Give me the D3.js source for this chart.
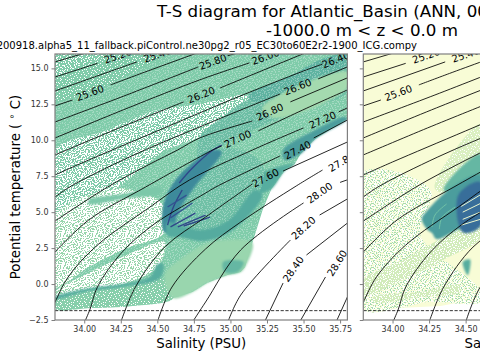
<!DOCTYPE html>
<html><head><meta charset="utf-8">
<script src="https://cdnjs.cloudflare.com/ajax/libs/d3/7.8.5/d3.min.js"></script>
<style>html,body{margin:0;padding:0;background:#fff;overflow:hidden}svg{display:block}text{font-family:"DejaVu Sans",sans-serif}</style>
</head><body><svg id="c" width="480" height="360"></svg>
<script>
// ---------- data (salinity PSU, potential temperature C) ----------
const salinityTicks=[34,34.25,34.5,34.75,35,35.25,35.5,35.75];
const temperatureTicks=[-2.5,0,2.5,5,7.5,10,12.5,15];
const freezingLine=[[33.8,-1.85],[35.8,-1.85]];
const titleLines=["T-S diagram for Atlantic_Basin (ANN, 0001-0010)","-1000.0 m < z < 0.0 m"];
const runName="20200918.alpha5_11_fallback.piControl.ne30pg2_r05_EC30to60E2r2-1900_ICG.compy";

const contourLevels=[25.0,25.2,25.4,25.6,25.8,26.0,26.2,26.4,26.6,26.8,27.0,27.2,27.4,27.6,27.8,28.0,28.2,28.4,28.6,28.8];
const contourLines=[
[[33.8,15.45],[34.05,16.2]],
[[33.8,14.4],[34.09,15.35]],
[[33.8,13.43],[34.36,15.45]],
[[33.8,12.39],[33.92,12.8],null,[34.18,13.85],[34.39,14.65],[34.78,16.1]],
[[33.8,11.27],[34.29,13.15],[34.78,15.1],null,[34.98,15.87],[35.07,16.15]],
[[33.8,10.16],[34.3,12.25],[34.79,14.2],[35.13,15.38],null,[35.37,16.15]],
[[33.8,8.98],[34.24,10.86],[34.68,12.67],null,[34.93,13.64],[35.48,15.94],[35.52,16.1]],
[[33.8,7.59],[34,8.49],[34.5,10.65],[35,12.8],[35.5,14.82],[35.63,15.3]],
[[33.8,6.05],[33.9,6.75],[34.31,8.84],[34.79,10.93],[35.34,13.22],null,[35.6,14.27],[35.8,15.1]],
[[33.8,4.38],[34.16,6.75],[34.45,8.35],[34.64,9.33],[34.79,10.16],[35.15,11.34],null,[35.41,12.67],[35.8,14.34]],
[[33.8,2.23],[34.03,4.45],[34.42,6.75],[34.88,9.33],[34.94,9.6],null,[35.19,10.65],[35.54,12.32],[35.8,13.5]],
[[33.78,-1.6],[33.8,-1.25],[33.89,0.49],[34.09,2.71],[34.45,5.36],[34.72,7.24],[35.15,9.32],[35.5,10.86],null,[35.74,11.97],[35.8,12.25]],
[[34.0,-2.7],[34.04,-1.74],[34.09,-0.21],[34.26,2.23],[34.48,4.18],[34.83,6.33],[34.9,6.75],[35.34,8.91],null,[35.57,10.16],[35.8,11.41]],
[[34.25,-2.65],[34.35,-0.21],[34.55,2.57],[34.83,4.66],[35.15,6.96],null,[35.36,7.86],[35.8,9.88]],
[[34.5,-2.65],[34.6,-0.21],[34.83,2.44],[35.07,4.31],[35.45,6.82],[35.63,7.93]],
[[34.74,-2.65],[34.83,-1.25],[35.07,2.37],[35.5,5.64],null,[35.75,7.07],[35.8,7.25]],
[[34.98,-2.7],[35.07,-0.77],[35.41,3.06],null,[35.61,4.8],[35.8,5.92]],
[[35.23,-2.7],[35.36,0.07],null,[35.52,2.02],[35.8,4.24]],
[[35.47,-2.7],[35.65,0.49]],
[[35.72,-2.7],[35.8,-0.9]]
];
const labelLevels=[25.2,25.4,25.6,25.8,26.0,26.2,26.4,26.6,26.8,27.0,27.2,27.4,27.6,27.8,28.0,28.2,28.4,28.6];
const labelSalinity=[34.23,34.5,34.04,34.88,35.24,34.8,35.72,35.46,35.27,35.05,35.63,35.46,35.24,35.76,35.61,35.5,35.43,35.73];
const labelTemperature=[15.87,15.94,13.29,15.45,15.8,13.15,15.59,13.71,11.97,10.09,11.41,9.32,7.38,8.49,6.33,3.9,1.04,1.46];
const labelAngle=[-19,-19,-20,-20,-20,-22,-22,-22,-24,-25,-24,-27,-28,-30,-35,-42,-55,-58];

const cloudEnvelope=[[33.8,16],[35.8,16],[35.8,11.48],[35.58,10.09],[35.48,9.05],[35.44,8.35],[35.37,7.86],[35.28,6.61],[35.22,5.15],[35.15,2.85],[35.1,1.18],[35.07,0.84],[34.98,0.63],[34.84,0.07],[34.74,-0.56],[34.61,-0.97],[34.33,-1.53],[34.04,-1.67],[33.8,-1.74]];

const leftRegions=[
cloudEnvelope,
[[33.8,16],[34.23,16],[34.07,15.3],[33.8,14.05]],
[[33.8,14.05],[34.23,16],[34.55,16],[33.8,12.8]],
[[33.8,9.32],[34.14,10.65],[34.48,12.05],[34.79,12.53],[35.12,13.09],[35.09,12.11],[34.79,10.23],[34.55,9.25],[34.21,6.61],[33.8,4.8]],
[[33.8,4.8],[34.21,6.61],[34.33,6.54],[34.53,5.6],[34.55,3.62],[34.26,2.37],[34.03,1.18],[33.8,-0.21]],
[[34.03,5.85],[34.26,6.26],[34.53,6.75],[34.53,6.33],[34.26,5.92],[34.03,5.57]],
[[33.8,-0.56],[34.03,0.77],[34.26,1.88],[34.55,2.92],[34.5,1.18],[34.27,0],[34.03,-0.35],[33.8,-0.9]],
[[33.8,-1.11],[34.03,-0.49],[34.26,-0.28],[34.52,0.42],[34.61,-0.97],[34.33,-1.53],[34.04,-1.67],[33.8,-1.74]],
[[33.8,-0.9],[34.03,-0.3],[34.26,0],[34.45,0.5],[34.5,1.4],[34.54,1.4],[34.52,0.42],[34.26,-0.2],[34.03,-0.49],[33.8,-1.05]],
[[34.61,-0.97],[34.55,0.63],[34.67,1.81],[34.83,2.78],[34.96,3.06],[35.15,2.85],[35.1,1.18],[35.07,0.84],[34.98,0.63],[34.84,0.07],[34.74,-0.56]],
[[34.95,1.53],[35.09,1.53],[35.05,0.84],[34.96,0.84]],
[[34.79,10.23],[34.93,11.48],[35.13,12.88],[35.34,13.36],[35.6,14.62],[35.8,15.52],[35.8,13.36],[35.48,12.11],[35.2,10.93],[34.93,9.53],[34.79,8.35]],
[[35.12,13.09],[35.41,14.48],[35.61,15.59],[35.8,16],[35.8,15.17],[35.48,13.92],[35.17,12.67]],
[[35.22,12.25],[35.8,14.75],[35.8,13.64],[35.29,11.55]],
[[35.36,9.32],[35.58,10.72],[35.78,11.62],[35.8,11.48],[35.58,10.09],[35.48,9.05],[35.37,8.63]],
[[35.13,7.24],[35.37,8.28],[35.44,8.35],[35.37,7.86],[35.28,6.61],[35.17,6.19],[35.07,5.85]],
[[34.55,3.62],[34.54,5.36],[34.61,7.03],[34.74,8.42],[34.88,9.32],[35.07,9.32],[35.22,8.28],[35.19,6.19],[35,3.97],[34.81,3.27],[34.65,3.55]],
[[34.55,3.62],[34.54,5.36],[34.61,7.03],[34.74,8.42],[34.88,9.32],[34.94,9.19],[34.76,6.82],[34.65,5.15],[34.6,3.76]],
[[34.57,3.34],[34.65,3.27],[34.81,2.99],[35.01,3.69],[35.22,6.19],[35.17,6.54],[34.99,4.45],[34.81,3.76],[34.67,4.04],[34.57,4.31]]
];
const leftLevels=[0.4,0.4,0.4,0.4,0.33,0.42,0.33,0.38,0.55,0.33,0.5,0.47,0.52,0.3,0.62,0.55,0.46,0.7,0.56];
const leftHoles=[5,2,1,3,6,0,6,1,0,0,0,5,5,0,0,0,5,0,0];
const leftStreaks=[
[[34.57,4.1],[34.61,5.36],[34.67,6.54]],
[[34.59,3.97],[34.76,4.94]],
[[34.64,3.97],[34.83,4.8]],
[[34.68,4.04],[34.86,4.66]],
[[34.59,4.6],[34.74,5.64]],
[[34.57,5.36],[34.7,6.19]],
[[34.65,7.03],[34.74,8.07],[34.88,9.32],[34.94,9.67]]
];
const leftStreakLevels=[0.95,0.95,0.95,0.95,0.9,0.9,0.95];

const rightRegions=[
cloudEnvelope,
[[33.8,7.79],[34.26,6.54],[34.19,3.41],[34.6,-0.42],[34.6,-1.25],[34.24,-1.25],[34.04,-1.67],[33.8,-1.74]],
[[33.8,7.79],[34.26,6.54],[34.19,3.41],[34.6,-0.42],[34.6,-1.25],[34.24,-1.25],[34.04,-1.67],[33.8,-1.74]],
[[33.8,0.28],[34.07,1.67],[34.37,3.41],[34.6,4.8],[34.6,3.2],[34.37,1.81],[34.07,0.28],[33.8,-0.77]],
[[33.87,-0.9],[34.19,-0.56],[34.46,-0.07],[34.46,-0.56],[34.19,-0.9],[33.87,-1.25]],
[[34.29,6.61],[34.6,11.13],[34.6,6.61]],
[[34.35,6.54],[34.6,9.05],[34.6,6.54]],
[[34.2,4.52],[34.24,5.15],[34.41,6.75],[34.6,7.58],[34.6,4.52],[34.44,3.76],[34.3,3.13],[34.27,3.55],[34.24,3.76]],
[[34.45,6.2],[34.6,7.1],[34.6,4],[34.48,3.6]],
[[34.48,1.53],[34.53,1.7],[34.515,0.6]]
];
const rightLevels=[0.0,0.01,null,0.16,0.16,0.12,0.5,0.62,0.8,0.55];
const rightHoles=[0,6,4,2,2,1,0,0,0,0];
const rightStreaks=[
[[34.27,3.97],[34.29,4.8],[34.37,5.57]],
[[34.32,3.83],[34.34,4.66],[34.43,5.36]],
[[34.47,5.4],[34.6,6.2]],
[[34.48,5],[34.6,5.6]],
[[34.48,4.5],[34.6,5.0]],
[[34.47,4.1],[34.6,4.5]]
];
const rightStreakLevels=[0.45,0.45,0.05,0.05,0.05,0.05];

// ---------- styling and scales ----------
const svg=d3.select("#c");
const color=d3.scaleLinear().domain([0,0.2,0.4,0.55,0.7,0.85,1])
  .range(["#f8fcd6","#c8e8b4","#80ccaa","#57ad9f","#3d8a9b","#35609a","#2d3a80"]);
const yScale=d3.scaleLinear().domain([-2.5,16]).range([320,54]);
const gray="#7f7f7f";

// dither tiles for thinly populated parts of the cloud (texture only)
const tileA=["..#.......#.....","......#.......#.","#..........#....","....#..#........",".........#....#.",".#...........#..","...#...#........","........#...#..#","#....#..........","...........#..#.","..#.....#.......","......#.....#...","#.........#.....","...#.........#..",".......#.#......",".#...#.........#"];
const tileB=[".....#......#...","#.........#....#","...#..#.........",".#.........#..#.","......#.#.......","...#.........#..","#........#.....#",".....#.......#..","..#.......#.....","......#.#.......",".#............#.","....#......#....","..........#....#",".#...#..#.......","............#...","...#..#....#...."];
const shift=(t,dx,dy)=>d3.range(16).map(r=>d3.range(16).map(c=>t[(r+dy)%16][(c+dx)%16]).join(""));
// a 32px tile made of four differently shifted quadrants, so that repetition is less visible
const big=t=>{const a=t,b=shift(t,3,9),c=shift(t,10,5),d=shift(t,7,13);
  return a.map((r,i)=>r+b[i]).concat(c.map((r,i)=>r+d[i]));};
const A=big(tileA),B=big(tileB);
const sh32=(t,dx,dy)=>d3.range(32).map(r=>d3.range(32).map(c=>t[(r+dy)%32][(c+dx)%32]).join(""));
const C=sh32(A,5,7),D=sh32(B,11,3),E=sh32(A,13,18),F=sh32(B,22,11);
const holeSets={1:[[A],"#fff",1],2:[[A,B],"#fff",1],3:[[A,B,C,D],"#fff",1],4:[[C,E],"#a6dbb0",1],5:[[A,D],"#fff",0.28],6:[[A,B,C,D,E,F],"#fff",1]};
const defs=svg.append("defs");
Object.entries(holeSets).forEach(([k,[tiles,fill,op]])=>{
  const p=defs.append("pattern").attr("id","holes"+k).attr("patternUnits","userSpaceOnUse").attr("width",32).attr("height",32);
  const on=new Set();
  tiles.forEach(t=>t.forEach((row,r)=>[...row].forEach((ch,c)=>{if(ch==="#")on.add(r*32+c);})));
  on.forEach(v=>p.append("rect").attr("x",v%32).attr("y",Math.floor(v/32)).attr("width",1).attr("height",1).attr("fill",fill).attr("fill-opacity",op).attr("shape-rendering","crispEdges"));
});
defs.append("filter").attr("id","soft").attr("x","-20%").attr("y","-20%").attr("width","140%").attr("height","140%")
  .append("feGaussianBlur").attr("stdDeviation",0.8);
defs.append("filter").attr("id","thin").attr("x","-20%").attr("y","-20%").attr("width","140%").attr("height","140%")
  .append("feGaussianBlur").attr("stdDeviation",0.35);

function panel(id,x0,regions,levels,holes,streaks,streakLevels,streakWidth){
  const x=d3.scaleLinear().domain([33.8,35.8]).range([x0,x0+292.4]);
  defs.append("clipPath").attr("id",id).append("rect").attr("x",x0).attr("y",54).attr("width",292.4).attr("height",266);
  const g=svg.append("g");
  const plot=g.append("g").attr("clip-path",`url(#${id})`);
  const area=d3.line().x(d=>x(d[0])).y(d=>yScale(d[1]));
  const blob=d3.line().x(d=>x(d[0])).y(d=>yScale(d[1])).curve(d3.curveCatmullRomClosed.alpha(0.5));
  const regs=plot.append("g");
  regions.forEach((r,i)=>{
    const d=i===0?area(r)+"Z":blob(r);
    if(levels[i]!==null){const f=regs.append("path").attr("d",d).attr("fill",color(levels[i]));
      if(i>0&&!holes[i])f.attr("filter","url(#soft)");}
    if(holes[i])regs.append("path").attr("d",d).attr("fill",`url(#holes${holes[i]})`).attr("filter","url(#thin)");
  });
  streaks.forEach((s,i)=>plot.append("path").attr("d",area.curve(d3.curveCatmullRom)(s)).attr("fill","none")
    .attr("stroke",color(streakLevels[i])).attr("stroke-width",streakWidth).attr("filter","url(#thin)"));
  area.curve(d3.curveLinear);
  const contour=d3.line().defined(d=>d!==null).x(d=>x(d[0])).y(d=>yScale(d[1])).curve(d3.curveCatmullRom);
  contourLines.forEach(l=>plot.append("path").attr("d",contour(l)).attr("fill","none").attr("stroke","#000").attr("stroke-opacity",0.85).attr("stroke-width",1));
  plot.append("path").attr("d",area(freezingLine)).attr("fill","none").attr("stroke","#000").attr("stroke-width",0.8).attr("stroke-dasharray","3.2 1.6");
  labelLevels.forEach((lv,i)=>plot.append("text").attr("transform",`translate(${x(labelSalinity[i])},${yScale(labelTemperature[i])}) rotate(${labelAngle[i]})`)
    .attr("text-anchor","middle").attr("dy","0.35em").attr("font-size",10).attr("fill","#000").text(lv.toFixed(2)));
  g.append("rect").attr("x",x0).attr("y",54).attr("width",292.4).attr("height",266).attr("fill","none").attr("stroke",gray).attr("stroke-width",1.2);
  const xa=g.append("g").attr("transform","translate(0,320)").call(d3.axisBottom(x).tickValues(salinityTicks).tickFormat(d3.format(".2f")).tickSize(3.5));
  const ya=g.append("g").attr("transform",`translate(${x0},0)`).call(d3.axisLeft(yScale).tickValues(temperatureTicks).tickFormat(id==="left"?(d=>d3.format(".1f")(d).replace("-","\u2212")):"").tickSize(3.5));
  [xa,ya].forEach(a=>{a.select(".domain").remove();a.selectAll("line").attr("stroke",gray);
    a.selectAll("text").attr("font-size",8).attr("fill","#333").attr("font-family","DejaVu Sans");});
  g.append("text").attr("x",x(34.8)).attr("y",348).attr("text-anchor","middle").attr("font-size",13.3).attr("fill","#000").text("Salinity (PSU)");
}
panel("left",55,leftRegions,leftLevels,leftHoles,leftStreaks,leftStreakLevels,1.4);
panel("right",363.3,rightRegions,rightLevels,rightHoles,rightStreaks,rightStreakLevels,1);

svg.append("text").attr("transform","translate(20,187) rotate(-90)").attr("text-anchor","middle").attr("font-size",13.3).attr("fill","#000")
  .html('Potential temperature ( <tspan dy="-5" font-size="9.5">\u2218</tspan><tspan dy="5"> C)</tspan>');
svg.append("text").attr("x",157).attr("y",17).attr("font-size",16.7).attr("fill","#000").text(titleLines[0]);
svg.append("text").attr("x",362).attr("y",36).attr("text-anchor","middle").attr("font-size",16.7).attr("fill","#000").text(titleLines[1]);
svg.append("text").attr("x",417).attr("y",49).attr("text-anchor","end").attr("font-size",10).attr("fill","#000").text(runName);
</script></body></html>
